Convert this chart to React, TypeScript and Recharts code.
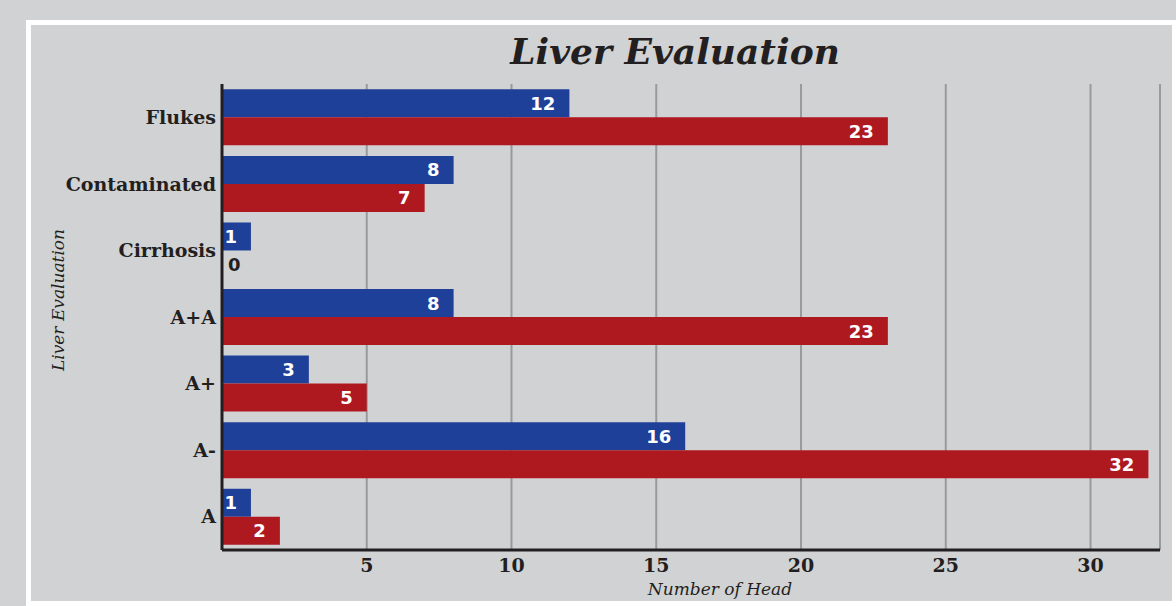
import React from 'react';
import { BarChart, Bar, XAxis, YAxis, CartesianGrid, LabelList } from 'recharts';

const categories = ['Flukes', 'Contaminated', 'Cirrhosis', 'A+A', 'A+', 'A-', 'A'];
const blueSeries = [12, 8, 1, 8, 3, 16, 1];
const redSeries = [23, 7, 0, 23, 5, 32, 2];
const xTicks = [5, 10, 15, 20, 25, 30];

const BG = '#d1d2d4';
const INK = '#231f20';
const BLUE = '#1f4099';
const RED = '#ae1920';

const chartData = categories.map((name, i) => ({
  name,
  blue: blueSeries[i],
  red: redSeries[i],
}));

const renderValue = (props: any) => {
  const { x, y, width, height, value } = props;
  const cy = Number(y) + Number(height) / 2;
  if (!value) {
    return (
      <text x={Number(x) + 6} y={cy} dominantBaseline="central" fill={INK}
        fontFamily="'DejaVu Sans'" fontWeight="bold" fontSize={18}>
        {String(value)}
      </text>
    );
  }
  return (
    <text x={Number(x) + Number(width) - 14} y={cy} textAnchor="end" dominantBaseline="central"
      fill="#ffffff" fontFamily="'DejaVu Sans'" fontWeight="bold" fontSize={18}>
      {value}
    </text>
  );
};

export default function App() {
  return (
    <div style={{ position: 'fixed', left: 0, top: 0, width: 1176, height: 606, background: BG, overflow: 'hidden' }}>
      {/* white frame */}
      <div style={{ position: 'absolute', left: 26, top: 20, width: 1160, height: 600, background: '#ffffff' }} />
      <div style={{ position: 'absolute', left: 31, top: 25, width: 1141, height: 576, background: BG }} />

      <div style={{ position: 'absolute', left: 0, top: 0 }}>
        <BarChart
          width={1176}
          height={606}
          data={chartData}
          layout="vertical"
          margin={{ top: 84, right: 16, bottom: 26, left: 0 }}
          barCategoryGap="8%"
          barGap={0}
        >
          <CartesianGrid horizontal={false} stroke="#9a9a9c" strokeWidth={2} />
          <XAxis
            type="number"
            domain={[0, 32.4]}
            ticks={xTicks}
            axisLine={{ stroke: INK, strokeWidth: 3 }}
            tickLine={false}
            tickSize={0}
            tickMargin={9}
            tick={{ fill: INK, fontFamily: "'DejaVu Serif'", fontWeight: 'bold', fontSize: 19 }}
            allowDataOverflow
          />
          <YAxis
            type="category"
            dataKey="name"
            width={222}
            axisLine={{ stroke: INK, strokeWidth: 3 }}
            tickLine={false}
            tickSize={0}
            tickMargin={6}
            tick={{ fill: INK, fontFamily: "'DejaVu Serif'", fontWeight: 'bold', fontSize: 19 }}
          />
          <Bar dataKey="blue" fill={BLUE} isAnimationActive={false}>
            <LabelList dataKey="blue" content={renderValue} />
          </Bar>
          <Bar dataKey="red" fill={RED} minPointSize={1} isAnimationActive={false}>
            <LabelList dataKey="red" content={renderValue} />
          </Bar>
        </BarChart>
      </div>

      <div style={{ position: 'absolute', left: 375, top: 30, width: 600, textAlign: 'center',
        fontFamily: "'DejaVu Serif'", fontWeight: 'bold', fontStyle: 'italic', fontSize: 36, color: INK }}>
        Liver Evaluation
      </div>
      <div style={{ position: 'absolute', left: 58, top: 300, transform: 'translate(-50%, -50%) rotate(-90deg)',
        whiteSpace: 'nowrap', fontFamily: "'DejaVu Serif'", fontStyle: 'italic', fontSize: 17, color: INK }}>
        Liver Evaluation
      </div>
      <div style={{ position: 'absolute', left: 720, top: 589, transform: 'translate(-50%, -50%)',
        whiteSpace: 'nowrap', fontFamily: "'DejaVu Serif'", fontStyle: 'italic', fontSize: 17, color: INK }}>
        Number of Head
      </div>
    </div>
  );
}
